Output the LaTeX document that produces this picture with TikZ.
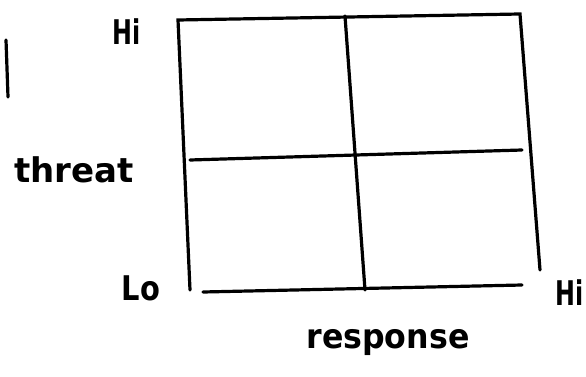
\documentclass[tikz,border=0pt]{standalone}
\usepackage{fontspec}
\setmainfont{DejaVu Sans}
\begin{document}
\begin{tikzpicture}[x=1pt, y=-1pt,
    every node/.style={font=\fontsize{34}{36}\selectfont\bfseries},
    stroke/.style={line width=3.2pt, line cap=round, black},
    lbl/.style={inner sep=0pt}]
\useasboundingbox (0,0) rectangle (586,377);
% grid corners
\coordinate (tl) at (178,20);
\coordinate (tr) at (520,14);
\coordinate (bl) at (190,290);
\coordinate (br) at (540,270);
\coordinate (bs) at (203,292);
\coordinate (be) at (522,285);
\coordinate (mt) at (345,16);
\coordinate (mb) at (365,290);
\coordinate (ml) at (190,160);
\coordinate (mr) at (522,150);
\coordinate (ta) at (6,40);
\coordinate (tb) at (8,97);
% frame and quadrants
\draw[stroke] (bl) -- (tl) -- (tr) -- (br);
\draw[stroke] (bs) -- (be);
\draw[stroke] (mt) -- (mb);
\draw[stroke] (ml) -- (mr);
\draw[stroke] (ta) -- (tb);
% axis labels
\node[lbl, xscale=0.7] (yhi) at (127,32) {Hi};
\node[lbl] (ythreat) at (74,170) {threat};
\node[lbl, xscale=0.85] (ylo) at (141,288) {Lo};
\node[lbl, xscale=0.7] (xhi) at (570,293) {Hi};
\node[lbl, xscale=0.93] (xresp) at (388,343) {response};
\end{tikzpicture}
\end{document}
